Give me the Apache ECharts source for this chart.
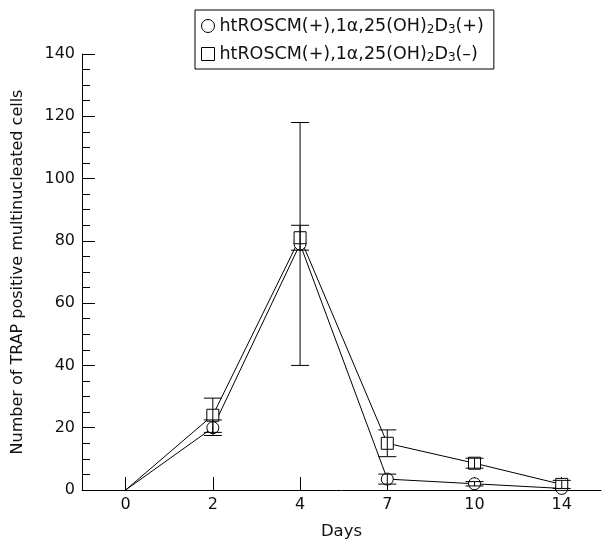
<!DOCTYPE html>
<html>
<head>
    <meta charset="utf-8">
    <title>TRAP positive multinucleated cells</title>
    <script src="https://cdn.jsdelivr.net/npm/echarts@6/dist/echarts.min.js"></script>
    <style>
        html, body { margin: 0; padding: 0; background: #fff; }
        #main { width: 603px; height: 543px; }
    </style>
</head>
<body>
    <div id="main"></div>
    <script>
        // 数据
        const days = ['0', '2', '4', '7', '10', '14'];
        const nameA = 'htROSCM(+),1α,25(OH)2D3(+)';
        const nameB = 'htROSCM(+),1α,25(OH)2D3(–)';
        const meanA = [0, 20, 79, 3.5, 2, 0.5];
        const errA  = [0, 2.5, 39, 1.6, 0.7, 0];
        const meanB = [0, 24, 81, 15, 8.6, 1.8];
        const errB  = [0, 5.5, 4, 4.3, 1.6, 1.3];
        const yTicks = [0, 20, 40, 60, 80, 100, 120, 140];

        const font = 'DejaVu Sans';
        const chart = echarts.init(document.getElementById('main'), null, { renderer: 'canvas' });

        function lineData(mean) {
            return mean.map((v, i) => i === 0 ? { value: [i, v], symbol: 'none' } : { value: [i, v] });
        }
        function errData(mean, err) {
            return mean.map((v, i) => [i, v - err[i], v + err[i]]).filter((d, i) => err[i] > 0);
        }
        function renderErr(params, api) {
            const x = api.value(0);
            const lo = api.coord([x, api.value(1)]);
            const hi = api.coord([x, api.value(2)]);
            const w = 9;
            const st = { stroke: '#000', lineWidth: 1 };
            return {
                type: 'group',
                children: [
                    { type: 'line', shape: { x1: lo[0], y1: lo[1], x2: hi[0], y2: hi[1] }, style: st },
                    { type: 'line', shape: { x1: lo[0] - w, y1: lo[1], x2: lo[0] + w, y2: lo[1] }, style: st },
                    { type: 'line', shape: { x1: hi[0] - w, y1: hi[1], x2: hi[0] + w, y2: hi[1] }, style: st }
                ]
            };
        }
        function legendLabel(name) {
            return name.replace('(OH)2D3', '(OH){s|2}D{s|3}');
        }

        const option = {
            animation: false,
            textStyle: { fontFamily: font, color: '#111' },
            grid: { left: 82, right: 2, top: 54, bottom: 53, outerBoundsMode: 'none', containLabel: false },
            legend: {
                orient: 'vertical',
                left: 195,
                top: 10,
                padding: [5, 10, 5, 6],
                itemGap: 7,
                itemWidth: 13,
                itemHeight: 13,
                borderColor: '#000',
                borderWidth: 1,
                borderRadius: 0,
                data: [
                    { name: nameA, icon: 'circle' },
                    { name: nameB, icon: 'rect' }
                ],
                itemStyle: { color: '#fff', borderColor: '#000', borderWidth: 1 },
                formatter: legendLabel,
                textStyle: {
                    fontFamily: font,
                    fontSize: 17.5,
                    color: '#111',
                    lineHeight: 20,
                    rich: {
                        s: { fontSize: 12, fontFamily: font, color: '#111', verticalAlign: 'bottom', padding: [9, 0, 0, 0], lineHeight: 20 }
                    }
                }
            },
            xAxis: {
                type: 'value',
                min: -0.5,
                max: 5.45,
                name: 'Days',
                nameLocation: 'middle',
                nameGap: 33,
                nameTextStyle: { fontSize: 16.5, color: '#111' },
                axisLine: { onZero: false, lineStyle: { color: '#000', width: 1 } },
                axisTick: { show: true, inside: true, length: 13, customValues: [0, 1, 2, 3, 4, 5], lineStyle: { color: '#000' } },
                axisLabel: {
                    customValues: [0, 1, 2, 3, 4, 5],
                    fontSize: 16,
                    color: '#111',
                    margin: 7,
                    formatter: v => days[Math.round(v)]
                },
                splitLine: { show: false }
            },
            yAxis: {
                type: 'value',
                min: yTicks[0],
                max: yTicks[yTicks.length - 1],
                interval: 20,
                name: 'Number of TRAP positive multinucleated cells',
                nameLocation: 'middle',
                nameGap: 56,
                nameTextStyle: { fontSize: 16, color: '#111' },
                axisLine: { show: true, onZero: false, lineStyle: { color: '#000', width: 1 } },
                axisTick: { show: true, inside: true, length: 13, lineStyle: { color: '#000' } },
                minorTick: { show: true, splitNumber: 4, length: 8, lineStyle: { color: '#000' } },
                axisLabel: { fontSize: 16, color: '#111', margin: 7 },
                splitLine: { show: false }
            },
            series: [
                {
                    name: nameA,
                    type: 'line',
                    data: lineData(meanA),
                    symbol: 'circle',
                    symbolSize: 12,
                    lineStyle: { color: '#000', width: 1 },
                    itemStyle: { color: '#fff', borderColor: '#000', borderWidth: 1 },
                    z: 3
                },
                {
                    name: nameB,
                    type: 'line',
                    data: lineData(meanB),
                    symbol: 'rect',
                    symbolSize: 12,
                    lineStyle: { color: '#000', width: 1 },
                    itemStyle: { color: '#fff', borderColor: '#000', borderWidth: 1 },
                    z: 3
                },
                {
                    type: 'custom',
                    renderItem: renderErr,
                    data: errData(meanA, errA),
                    z: 5
                },
                {
                    type: 'custom',
                    renderItem: renderErr,
                    data: errData(meanB, errB),
                    z: 5
                }
            ]
        };

        chart.setOption(option);
        window.addEventListener('resize', () => chart.resize());
    </script>
</body>
</html>
